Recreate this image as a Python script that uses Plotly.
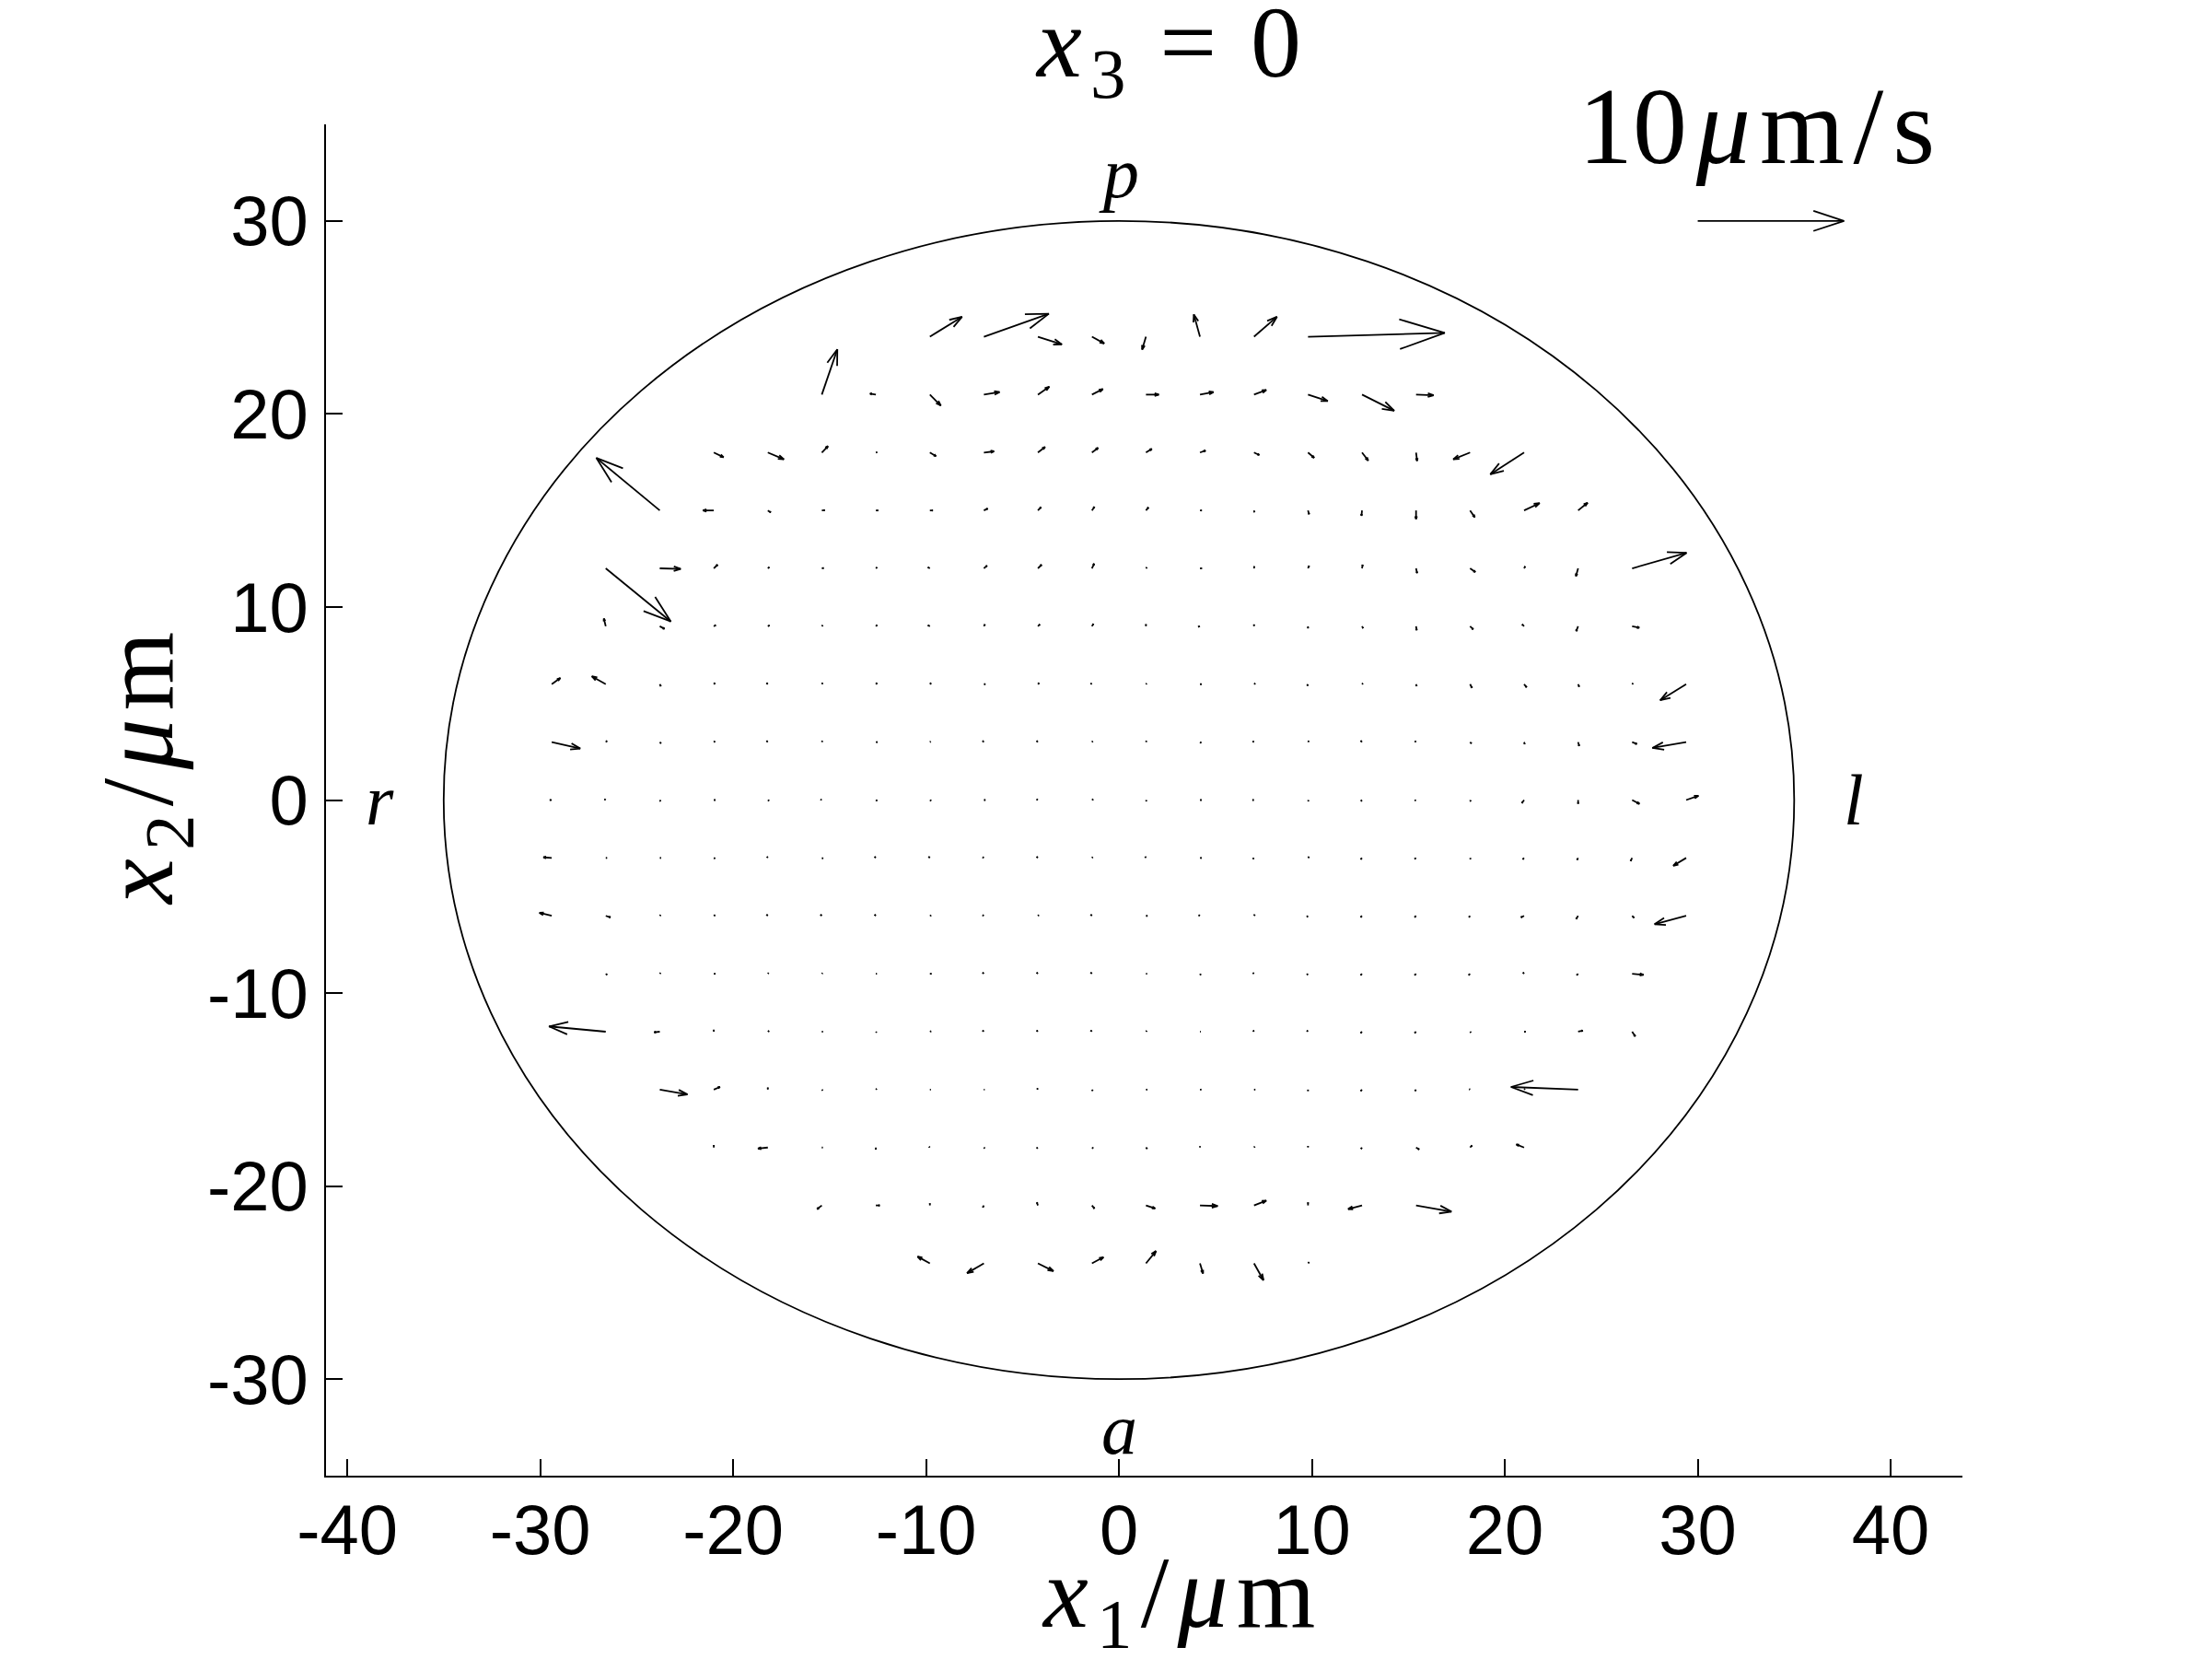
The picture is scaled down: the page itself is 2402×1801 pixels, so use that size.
import math
import plotly.graph_objects as go
import plotly.figure_factory as ff

# ---------------- data ----------------
# grid columns (x1, um) and rows (x2, um) of the velocity field in the plane x3 = 0
X_COLS = [-29.4, -26.6, -23.8, -21.0, -18.2, -15.4, -12.6, -9.8, -7.0, -4.2, -1.4,
          1.4, 4.2, 7.0, 9.8, 12.6, 15.4, 18.2, 21.0, 23.8, 26.6, 29.4]
Y_ROWS = [24, 21, 18, 15, 12, 9, 6, 3, 0, -3, -6, -9, -12, -15, -18, -21, -24]

_ = None  # no sample at this grid point
# velocity component along x1 (um/s), one row per Y_ROWS entry
U = [
    [_, _, _, _, _, _, _, 2.2, 4.44, 1.64, 0.84, -0.26, -0.42, 1.57, 9.35, _, _, _, _, _, _, _],
    [_, _, _, _, _, 1.06, -0.4, 0.75, 1.07, 0.78, 0.75, 0.88, 0.92, 0.84, 1.35, 2.2, 1.2, _, _, _, _, _],
    [_, _, _, 0.67, 1.1, 0.42, 0.08, 0.42, 0.69, 0.49, 0.42, 0.4, 0.38, 0.36, 0.42, 0.42, 0.07, -1.15, -2.31, _, _, _],
    [_, _, -4.34, -0.74, 0.2, 0.2, 0.15, 0.2, 0.26, 0.21, 0.17, 0.17, 0.12, 0.03, 0.07, -0.04, 0.0, 0.32, 1.06, 0.65, _, _],
    [_, 4.45, 1.43, 0.26, 0.1, 0.12, 0.08, -0.13, 0.21, 0.25, 0.15, 0.06, 0.13, 0.02, 0.07, 0.04, 0.07, 0.36, 0.07, -0.15, 3.72, _],
    [_, -0.13, 0.32, 0.13, 0.11, 0.06, 0.08, -0.13, 0.07, 0.13, 0.1, 0.0, -0.12, 0.0, 0.0, 0.07, 0.04, 0.21, -0.13, -0.13, 0.49, _],
    [0.59, -0.95, 0.07, 0.08, -0.08, 0.05, 0.08, 0.08, 0.1, 0.08, -0.08, 0.04, 0.1, 0.08, -0.05, 0.05, 0.04, 0.13, 0.17, 0.07, 0.06, -1.78],
    [1.95, 0.08, 0.08, 0.08, -0.08, 0.03, 0.1, 0.05, -0.08, -0.08, 0.05, 0.03, 0.08, -0.08, 0.05, -0.09, -0.07, 0.09, 0.04, 0.07, 0.32, -2.31],
    [-0.13, -0.08, 0.05, 0.1, 0.08, -0.08, 0.08, 0.08, 0.1, -0.08, 0.08, 0.03, 0.1, -0.1, 0.03, -0.07, -0.08, 0.04, -0.15, 0.0, 0.5, 0.84],
    [-0.57, 0.08, 0.08, 0.08, -0.05, 0.08, -0.08, -0.08, -0.08, -0.08, 0.05, -0.05, 0.1, -0.07, 0.07, -0.09, -0.09, 0.03, -0.09, -0.07, -0.1, -0.88],
    [-0.84, 0.32, 0.05, 0.08, -0.08, -0.08, -0.08, 0.08, -0.08, 0.05, -0.08, 0.1, -0.08, 0.05, -0.07, -0.09, -0.09, -0.07, -0.21, -0.13, 0.13, -2.16],
    [_, 0.09, 0.05, 0.1, 0.05, 0.04, 0.06, 0.1, -0.08, -0.08, -0.08, 0.06, 0.05, -0.07, -0.07, -0.09, -0.09, -0.09, -0.07, -0.09, 0.78, _],
    [_, -3.88, -0.38, 0.0, 0.08, 0.06, 0.04, 0.08, -0.08, -0.08, -0.08, 0.05, 0.04, -0.05, -0.07, -0.09, -0.09, 0.05, 0.1, 0.32, 0.21, _],
    [_, _, 1.89, 0.42, 0.0, 0.05, 0.05, 0.05, 0.04, -0.05, 0.05, 0.08, 0.08, 0.08, 0.0, -0.09, -0.07, -0.05, 0.05, -4.59, _, _],
    [_, _, _, 0.0, -0.67, 0.05, 0.0, -0.05, 0.05, -0.08, 0.08, 0.08, 0.0, 0.05, 0.0, -0.07, 0.21, 0.13, -0.53, _, _, _],
    [_, _, _, _, _, -0.32, 0.26, 0.0, -0.07, -0.07, 0.17, 0.63, 1.21, 0.84, 0.0, -0.95, 2.42, _, _, _, _, _],
    [_, _, _, _, _, _, _, -0.84, -1.15, 1.06, 0.79, 0.69, 0.21, 0.65, 0.07, _, _, _, _, _, _, _],
]
# velocity component along x2 (um/s)
V = [
    [_, _, _, _, _, _, _, 1.36, 1.57, -0.53, -0.46, -0.88, 1.52, 1.36, 0.26, _, _, _, _, _, _, _],
    [_, _, _, _, _, 3.09, 0.07, -0.75, 0.17, 0.54, 0.38, 0.0, 0.17, 0.32, -0.44, -1.1, -0.04, _, _, _, _, _],
    [_, _, _, -0.32, -0.46, 0.44, 0.02, -0.25, 0.08, 0.38, 0.32, 0.25, 0.13, -0.17, -0.36, -0.55, -0.57, -0.46, -1.49, _, _, _],
    [_, _, 3.59, 0.0, -0.13, 0.02, 0.0, 0.0, 0.13, 0.22, 0.25, 0.21, 0.0, -0.12, -0.26, -0.36, -0.59, -0.46, 0.5, 0.53, _, _],
    [_, -3.63, -0.04, 0.25, 0.08, 0.02, 0.06, 0.07, 0.18, 0.25, 0.32, 0.06, 0.0, 0.13, 0.17, 0.24, -0.32, -0.25, 0.13, -0.53, 1.06, _],
    [_, 0.53, -0.17, 0.08, 0.06, 0.06, 0.08, 0.07, 0.13, 0.13, 0.16, 0.13, -0.03, 0.12, -0.13, -0.13, -0.26, -0.21, 0.13, -0.33, -0.1, _],
    [0.42, 0.54, -0.13, 0.08, 0.08, 0.08, 0.08, 0.08, 0.0, 0.08, 0.05, 0.04, 0.0, 0.05, -0.1, 0.05, -0.13, -0.25, -0.21, -0.17, 0.06, -1.1],
    [-0.44, 0.08, -0.08, 0.05, 0.08, 0.08, 0.0, 0.03, 0.08, 0.08, 0.05, 0.08, -0.05, 0.05, 0.08, 0.09, 0.07, -0.09, -0.13, -0.26, -0.13, -0.4],
    [0.0, 0.05, -0.08, 0.0, -0.05, 0.03, -0.05, -0.05, 0.0, 0.05, 0.05, -0.08, 0.0, 0.0, -0.08, -0.07, -0.03, -0.09, -0.21, -0.25, -0.26, 0.29],
    [0.04, 0.0, 0.0, -0.03, 0.08, -0.03, 0.08, 0.08, 0.05, 0.08, 0.05, 0.08, 0.0, -0.07, 0.07, -0.09, -0.07, -0.08, -0.09, -0.13, -0.21, -0.53],
    [0.21, -0.1, 0.05, 0.05, 0.08, 0.08, 0.08, 0.03, 0.05, 0.05, 0.08, 0.0, 0.05, 0.08, -0.07, -0.09, -0.09, -0.09, -0.1, -0.21, -0.13, -0.57],
    [_, -0.07, 0.05, 0.0, 0.05, 0.04, 0.0, 0.0, 0.08, 0.08, 0.08, 0.0, -0.08, 0.05, -0.07, -0.09, -0.09, -0.09, 0.09, -0.09, -0.07, _],
    [_, 0.36, -0.04, 0.13, 0.05, 0.0, -0.05, 0.03, 0.08, 0.08, 0.08, 0.05, 0.0, 0.08, 0.07, -0.09, -0.09, -0.05, 0.0, 0.07, -0.32, _],
    [_, _, -0.33, 0.18, 0.13, -0.05, 0.05, 0.0, 0.0, 0.08, -0.08, 0.0, 0.0, 0.0, -0.09, -0.09, -0.09, 0.03, 0.05, 0.18, _, _],
    [_, _, _, 0.16, -0.07, 0.0, -0.13, 0.05, -0.05, -0.05, -0.05, -0.08, 0.08, 0.05, 0.09, -0.09, -0.13, 0.13, 0.21, _, _, _],
    [_, _, _, _, _, -0.25, 0.0, 0.13, -0.13, 0.2, -0.21, -0.21, -0.04, 0.33, 0.2, -0.25, -0.42, _, _, _, _, _],
    [_, _, _, _, _, _, _, 0.46, -0.67, -0.53, 0.42, 0.84, -0.69, -1.15, 0.07, _, _, _, _, _, _, _],
]

X_TICKS = [-40, -30, -20, -10, 0, 10, 20, 30, 40]
Y_TICKS = [-30, -20, -10, 0, 10, 20, 30]
CELL_SEMI_AXES = (35.0, 30.0)        # cell outline (um)
REF_SPEED = 10.0                     # um/s, scale arrow
REF_ORIGIN = (30.0, 30.0)
SCALE = 0.758                        # plot units per um/s
POLE_LABELS = [("p", 0.0, 32.5), ("a", 0.0, -32.6), ("r", -38.3, 0.0), ("l", 38.1, 0.0)]

# ---------------- figure ----------------
xs, ys, us, vs = [], [], [], []
for j, yv in enumerate(Y_ROWS):
    for i, xv in enumerate(X_COLS):
        if U[j][i] is None:
            continue
        xs.append(xv); ys.append(yv); us.append(U[j][i]); vs.append(V[j][i])

LINE = dict(color="black", width=1.8)
fig = ff.create_quiver(xs, ys, us, vs, scale=SCALE, arrow_scale=0.3475,
                       angle=math.atan(0.33), line=LINE, hoverinfo="skip")

ref = ff.create_quiver([REF_ORIGIN[0]], [REF_ORIGIN[1]], [REF_SPEED], [0.0], scale=SCALE,
                       arrow_scale=0.22, angle=math.atan(0.33), line=LINE, hoverinfo="skip")
fig.add_traces(ref.data)

a, b = CELL_SEMI_AXES
fig.add_shape(type="circle", xref="x", yref="y", x0=-a, x1=a, y0=-b, y1=b,
              line=dict(color="black", width=1.8), layer="below")

SERIF = "Liberation Serif"
SANS = "Liberation Sans"
HS = "\u200a"  # hair space, widens the serif text a little

W, H = 2402, 1801
PAGE = 8                                   # page offset of the figure in the browser
PLOT_L, PLOT_R, PLOT_T, PLOT_B = 354, 2131, 135, 1602   # on-screen plot box
ML = PLOT_L - PAGE
MT = PLOT_T - PAGE
MR = W - (PLOT_R - PAGE)
MB = H - (PLOT_B - PAGE)
PW = W - ML - MR
PH = H - MT - MB


def paper(sx, sy):
    """screen pixel -> paper fraction"""
    fx, fy = sx - PAGE, sy - PAGE
    return (fx - ML) / PW, (H - fy - MB) / PH


for txt, px, py in POLE_LABELS:
    fig.add_annotation(x=px, y=py, xref="x", yref="y", text=f"<i>{txt}</i>", showarrow=False,
                       font=dict(family=SERIF, size=78, color="black"),
                       xanchor="center", yanchor="middle")


def add_paper_text(text, sx, sy, size, angle=0):
    px, py = paper(sx, sy)
    fig.add_annotation(x=px, y=py, xref="paper", yref="paper", text=text, showarrow=False,
                       textangle=angle, font=dict(family=SERIF, size=size, color="black"),
                       xanchor="center", yanchor="middle")


add_paper_text(f"<i>x</i>{HS}<sub>3</sub>{HS} = {HS}0", 1268, 54, 110)
add_paper_text(f"{int(REF_SPEED)}{HS}<i>μ</i>{HS}m{HS}/{HS}s", 1907, 138, 118)
add_paper_text(f"<i>x</i>{HS}<sub>1</sub>{HS}/{HS}<i>μ</i>{HS}m", 1279, 1737, 110)
add_paper_text(f"<i>x</i>{HS}<sub>2</sub>{HS}/{HS}<i>μ</i>{HS}m", 158, 835, 110, angle=-90)

axis_common = dict(showgrid=False, zeroline=False, showline=True, linecolor="black", linewidth=2,
                   ticks="inside", ticklen=18, tickwidth=2, tickcolor="black", mirror=False,
                   tickfont=dict(family=SANS, size=76, color="black"))
fig.update_layout(
    width=W, height=H, margin=dict(l=ML, r=MR, t=MT, b=MB, autoexpand=False),
    paper_bgcolor="white", plot_bgcolor="white", showlegend=False, hovermode=False,
    xaxis=dict(range=[-41.1, 43.72], tickvals=X_TICKS, ticktext=[str(t) for t in X_TICKS],
               ticklabelstandoff=-8, **axis_common),
    yaxis=dict(range=[-35, 35], tickvals=Y_TICKS, ticktext=[str(t) for t in Y_TICKS],
               ticklabelstandoff=2, **axis_common),
)

fig.write_html("out.html")
